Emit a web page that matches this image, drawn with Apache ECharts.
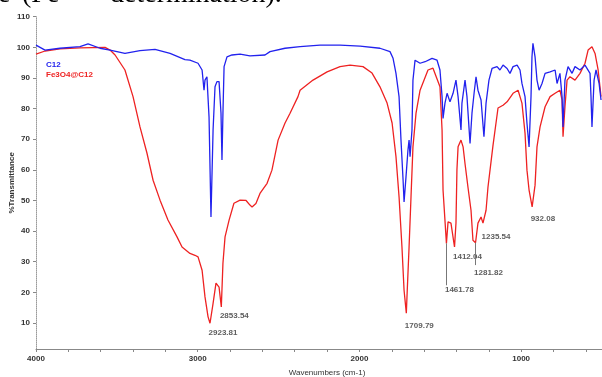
<!DOCTYPE html>
<html>
<head>
<meta charset="utf-8">
<script src="https://cdn.jsdelivr.net/npm/echarts@6/dist/echarts.min.js"></script>
<style>html,body{margin:0;padding:0;background:#fff}#c{width:602px;height:377px}</style>
</head>
<body>
<div id="c"></div>
<script>
// Fe3O4@C12 (red)
var redWn = [4000,3944,3852,3728,3573,3542,3511,3450,3400,3357,3314,3276,3233,3184,3128,3097,3048,3017,2998,2973,2955,2936,2924,2905,2887,2868,2854,2844,2831,2806,2776,2738,2701,2677,2664,2640,2615,2571,2541,2503,2460,2429,2380,2367,2287,2200,2120,2058,1978,1922,1873,1829,1798,1774,1755,1737,1724,1710,1706,1693,1681,1669,1650,1625,1576,1545,1502,1489,1483,1462,1452,1434,1412,1403,1397,1390,1372,1359,1347,1329,1310,1298,1282,1267,1248,1236,1217,1205,1174,1143,1112,1087,1050,1019,995,976,964,951,932,914,902,883,852,821,790,760,747,741,729,716,698,667,636,605,586,562,543,524,506];
var redT  = [97.8,98.8,99.5,99.8,100.0,99.1,97.5,92.6,83.9,74.0,65.5,56.6,50.1,43.6,38.1,34.8,32.7,32.1,31.6,27.2,18.5,12.0,9.9,16.4,23.0,21.7,15.2,29.5,38.1,43.6,49.1,50.1,50.0,48.5,47.9,49.0,52.3,55.6,59.9,69.7,75.3,78.5,83.9,86.0,89.3,92.0,93.7,94.2,93.7,91.6,87.1,81.8,75.3,64.3,51.2,34.8,20.7,13.2,18.5,34.8,51.2,67.5,78.5,86.0,92.6,93.2,87.1,73.0,53.4,36.0,43.0,42.6,34.8,42.6,60.0,67.5,69.7,67.5,62.0,54.4,46.8,37.0,36.2,42.6,44.6,42.6,46.8,54.4,68.0,80.2,81.1,82.2,85.0,86.0,81.8,72.0,59.9,53.4,47.9,55.0,67.5,74.0,80.6,83.9,85.0,86.0,82.8,70.8,80.6,89.3,90.4,89.3,91.5,94.8,99.1,100.2,98.0,92.6,83.9];

// C12 (blue)
var blueWn = [4000,3944,3852,3728,3678,3604,3542,3450,3357,3264,3171,3079,3048,2998,2973,2961,2955,2943,2930,2918,2905,2893,2881,2868,2856,2850,2844,2837,2819,2788,2738,2677,2584,2553,2460,2367,2244,2120,1996,1873,1811,1792,1774,1755,1743,1730,1724,1712,1700,1693,1687,1675,1669,1656,1644,1625,1594,1551,1520,1502,1489,1483,1471,1458,1440,1421,1403,1390,1372,1366,1347,1335,1316,1304,1291,1279,1267,1248,1230,1217,1199,1180,1149,1131,1112,1087,1069,1050,1025,1007,995,976,964,951,939,933,927,914,902,889,871,852,821,790,778,760,747,741,729,710,685,667,636,605,574,568,562,549,537,518,506];
var blueT  = [100.7,99.1,99.7,100.2,101.1,99.7,99.1,98.0,98.9,99.3,98.0,96.0,95.8,94.8,92.6,86.0,89.3,90.4,77.3,44.6,73.0,87.1,88.8,88.8,78.5,63.2,78.5,93.7,96.9,97.5,97.8,97.2,97.5,98.6,99.7,100.2,100.7,100.7,100.4,99.7,98.6,96.4,91.5,83.9,69.7,56.6,49.5,57.7,66.4,69.7,64.3,73.0,89.3,95.8,96.4,94.8,95.3,96.4,95.8,92.6,83.9,76.8,81.8,85.0,82.2,85.0,89.3,83.9,73.0,81.8,89.3,83.9,68.6,78.5,85.0,90.4,86.0,82.8,70.8,81.8,89.3,93.1,93.7,92.6,94.2,93.1,91.5,93.7,94.2,92.6,88.2,83.9,75.2,67.5,83.9,96.9,101.3,96.9,89.3,86.0,88.2,91.5,92.0,92.6,88.2,91.5,83.9,74.0,89.3,93.7,91.5,93.7,92.6,94.2,91.5,83.9,74.0,89.3,92.6,88.2,82.8];

// Peak annotations on the red spectrum
var peakWn = [2923.81, 2853.54, 1709.79, 1461.78, 1412.04, 1281.82, 1235.54, 932.08];
var peakT  = [9.9, 15.2, 13.2, 36.0, 34.8, 36.2, 42.6, 47.9];
var peakLabelDy = [10, 9, 13, 47, 10, 31, 14, 12];
// Leader lines: [wavenumber, from T, to T]
var leaderLines = [[1461.78, 36.0, 22.3], [1281.82, 36.2, 28.9]];

var yLabels = [10,20,30,40,50,60,70,80,90,100,110];
var xLabels = [4000,3000,2000,1000];
var xTicks = [4000,3800,3600,3400,3200,3000,2800,2600,2400,2200,2000,1800,1600,1400,1200,1000,800,600];

function zip(a, b){ return a.map(function(v,i){ return [v, b[i]]; }); }

var chart = echarts.init(document.getElementById('c'), null, {renderer:'canvas'});
var txt = {fontFamily:'Liberation Sans, Arial, sans-serif', fontSize:8, fontWeight:'bold', color:'#333'};

chart.setOption({
  animation:false,
  backgroundColor:'#fff',
  graphic:[
    {type:'text', left:-2, top:-19, style:{text:'e', font:'28px "Liberation Serif", serif', fill:'#000'}},
    {type:'text', left:22, top:-19, style:{text:'(Fe', font:'28px "Liberation Serif", serif', fill:'#000'}},
    {type:'text', left:110, top:-19, style:{text:'determination).', font:'28px "Liberation Serif", serif', fill:'#000'}}
  ],
  legend:{
    left:36, top:56, orient:'vertical', itemGap:2, itemWidth:0, itemHeight:0, icon:'rect',
    textStyle:Object.assign({}, txt, {padding:[0,0,0,0]}),
    data:[{name:'C12', textStyle:{color:'#2222ee'}},{name:'Fe3O4@C12', textStyle:{color:'#ee2222'}}]
  },
  grid:{left:36, right:0, top:16.7, bottom:28, containLabel:false, outerBoundsMode:'none'},
  xAxis:{
    type:'value', inverse:true, min:500, max:4000,
    name:'Wavenumbers (cm-1)', nameLocation:'middle', nameGap:20, nameMoveOverlap:false,
    nameTextStyle:Object.assign({}, txt, {fontWeight:'normal', padding:[0,0,0,16]}),
    axisLine:{show:true, onZero:false, lineStyle:{color:'#888', width:1}},
    axisTick:{show:true, customValues:xTicks, length:3, lineStyle:{color:'#888'}},
    axisLabel:Object.assign({customValues:xLabels, margin:6, formatter:function(v){return String(v);}}, txt),
    splitLine:{show:false}
  },
  yAxis:{
    type:'value', min:1.5, max:110,
    name:'%Transmittance', nameLocation:'middle', nameGap:20, nameRotate:90, nameMoveOverlap:false,
    nameTextStyle:Object.assign({}, txt, {padding:[16,0,0,0]}),
    axisLine:{show:true, onZero:false, lineStyle:{color:'#999', width:1, type:'dotted'}},
    axisTick:{show:true, customValues:yLabels, length:3, lineStyle:{color:'#888'}},
    axisLabel:Object.assign({customValues:yLabels, margin:6, showMinLabel:true, showMaxLabel:true}, txt),
    splitLine:{show:false}
  },
  series:[
    {name:'C12', type:'line', data:zip(blueWn, blueT), showSymbol:false, symbol:'none',
     lineStyle:{color:'#2222ee', width:1.3}, itemStyle:{color:'#2222ee'}, z:3},
    {name:'Fe3O4@C12', type:'line', data:zip(redWn, redT), showSymbol:false, symbol:'none',
     lineStyle:{color:'#ee2222', width:1.3}, itemStyle:{color:'#ee2222'}, z:2},
    {name:'peaks', type:'scatter', symbolSize:1, itemStyle:{color:'rgba(0,0,0,0)'}, z:4,
     data:peakWn.map(function(w,i){
       return {value:[w, peakT[i]], label:{show:true, formatter:w.toFixed(2), position:[0,0], align:'left', verticalAlign:'middle', offset:[-1, peakLabelDy[i]]}};
     }),
     label:Object.assign({}, txt, {color:'#333'}),
     markLine:{symbol:'none', silent:true, label:{show:false}, lineStyle:{color:'#777', width:1, type:'solid'},
       data:leaderLines.map(function(l){ return [{coord:[l[0], l[1]]},{coord:[l[0], l[2]]}]; })}
    }
  ]
});
</script>
</body>
</html>
